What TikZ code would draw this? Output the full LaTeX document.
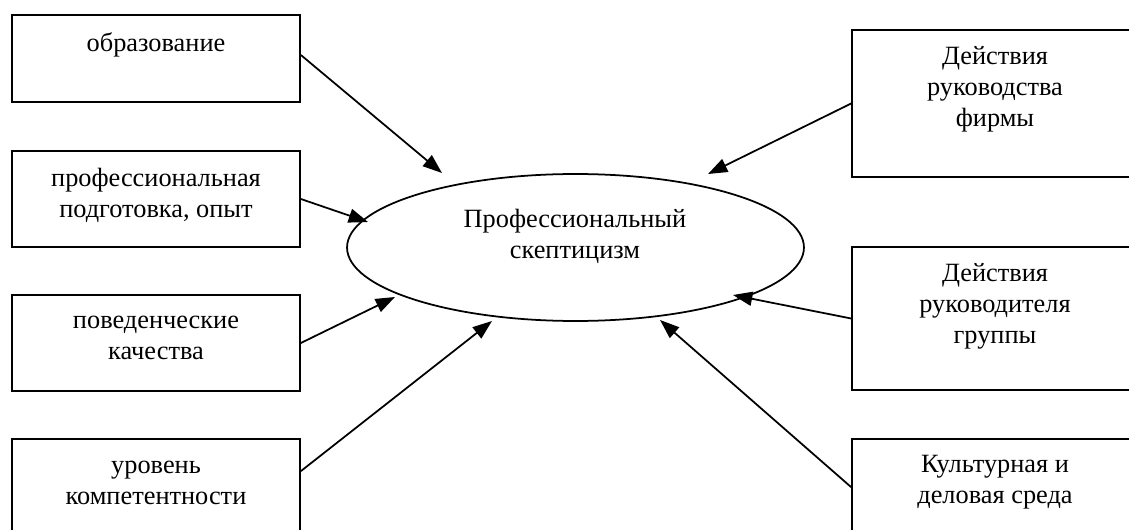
\documentclass[tikz,border=0pt]{standalone}
\usepackage{fontspec}
\setmainfont{Liberation Serif}
\usetikzlibrary{shapes.geometric,arrows.meta,calc}
\begin{document}
\begin{tikzpicture}[x=0.02cm,y=-0.02cm,
  box/.style={draw,line width=1pt,inner sep=0pt,minimum width=5.76cm},
  lbl/.style={align=center,inner sep=0pt,font=\fontsize{15pt}{17.6pt}\selectfont},
  oval/.style={draw,ellipse,line width=1pt,inner sep=0pt,minimum width=9.14cm,minimum height=2.94cm},
  arr/.style={line width=1pt,-{Triangle[length=11pt,width=8pt]}}]
\useasboundingbox (0,0) rectangle (1129,530);
\clip (0,0) rectangle (1129,530);
% left boxes
\node[box,minimum height=1.74cm] (b1) at (156,58.5) {};
\node[box,minimum height=1.92cm] (b2) at (156,199) {};
\node[box,minimum height=1.92cm] (b3) at (156,343) {};
\node[box,minimum height=2.8cm] (b4) at (156,509) {};
% right boxes
\node[box,minimum height=2.94cm] (r1) at (996,103.5) {};
\node[box,minimum height=2.86cm] (r2) at (996,318.5) {};
\node[box,minimum height=2.8cm] (r3) at (996,509) {};
% labels
\node[lbl] (l1) at (156,45) {образование};
\node[lbl] (l2) at (156,195) {профессиональная\\подготовка, опыт};
\node[lbl] (l3) at (156,337.5) {поведенческие\\качества};
\node[lbl] (l4) at (156,483) {уровень\\компетентности};
\node[lbl] (m1) at (995,89.5) {Действия\\руководства\\фирмы};
\node[lbl] (m2) at (995,306) {Действия\\руководителя\\группы};
\node[lbl] (m3) at (995,482.5) {Культурная и\\деловая среда};
% ellipse
\node[oval] (e) at (575.5,247.5) {};
\node[lbl] (el) at (575,236) {Профессиональный\\скептицизм};
% arrow tips
\coordinate (t1) at (442,173);
\coordinate (t2) at (368,222);
\coordinate (t3) at (395,297);
\coordinate (t4) at (492,321);
\coordinate (t5) at (708,174);
\coordinate (t6) at (733,295);
\coordinate (t7) at (660,320);
% arrow starts
\coordinate (s1) at ($(b1.east)+(0,-3.5)$);
\coordinate (s4) at ($(b4.north east)+(0,33)$);
\coordinate (s7) at ($(r3.north west)+(0,49)$);
\draw[arr] (s1) -- (t1);
\draw[arr] (b2.east) -- (t2);
\draw[arr] (b3.east) -- (t3);
\draw[arr] (s4) -- (t4);
\draw[arr] (r1.west) -- (t5);
\draw[arr] (r2.west) -- (t6);
\draw[arr] (s7) -- (t7);
\end{tikzpicture}
\end{document}
